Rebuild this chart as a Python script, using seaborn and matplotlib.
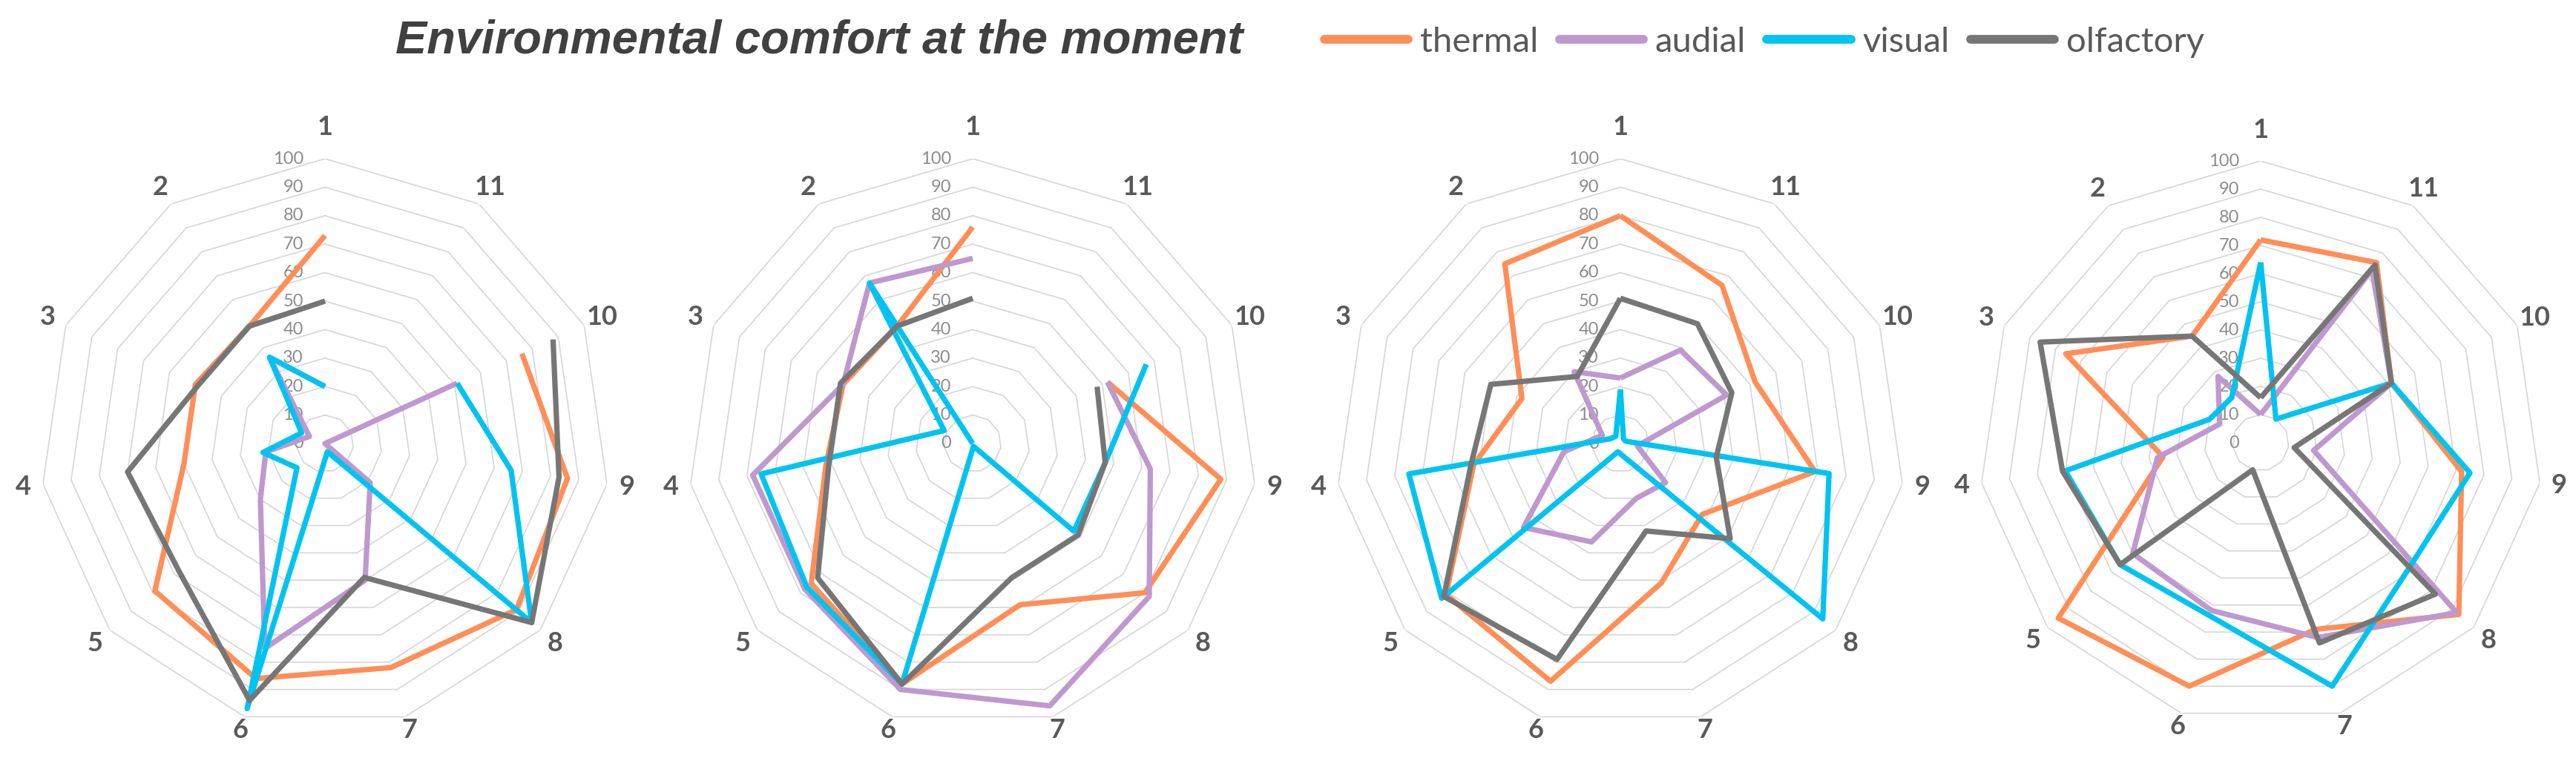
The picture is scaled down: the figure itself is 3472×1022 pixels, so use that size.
import numpy as np
import pandas as pd
import matplotlib
matplotlib.use("Agg")
import matplotlib.pyplot as plt
import seaborn as sns
from matplotlib.lines import Line2D
from matplotlib import transforms

nan = np.nan

# axis labels go counter-clockwise starting at the top
categories = ["1", "2", "3", "4", "5", "6", "7", "8", "9", "10", "11"]
series = ["thermal", "audial", "visual", "olfactory"]
ring_values = [0, 10, 20, 30, 40, 50, 60, 70, 80, 90, 100]

# chart 1
thermal_1 = [73, 49, 50, 50, 79, 86, 82, 89, 86, 76, nan]
audial_1 = [20, 36, 6, 21, 30, 75, 50, 21, 0, 51, nan]
visual_1 = [20, 36, 9, 22, 13, 97, 3, 96, 66, 51, nan]
olfactory_1 = [50, 49, 49, 70, 68, 94, 49, 96, 83, 88, nan]

# chart 2
thermal_2 = [76, 49, 50, 52, 75, 88, 59, 80, 88, 52, nan]
audial_2 = [65, 67, 50, 78, 78, 90, 96, 82, 63, 52, nan]
visual_2 = [0, 67, 11, 75, 77, 88, 1, 47, 47, 67, nan]
olfactory_2 = [51, 49, 51, 51, 72, 88, 49, 49, 47, 48, nan]

# chart 3
thermal_3 = [80, 75, 38, 52, 81, 87, 51, 38, 69, 52, 66]
audial_3 = [23, 30, 7, 20, 45, 36, 20, 21, 6, 41, 39]
visual_3 = [19, 3, 4, 75, 83, 3, 5, 94, 74, 2, 2]
olfactory_3 = [51, 28, 50, 53, 82, 79, 32, 51, 34, 43, 50]

# chart 4
thermal_4 = [72, 45, 76, 35, 95, 90, 69, 93, 72, 51, 76]
audial_4 = [10, 28, 16, 37, 60, 62, 72, 92, 19, 51, 73]
visual_4 = [64, 19, 20, 70, 66, 64, 90, 69, 75, 51, 10]
olfactory_4 = [16, 45, 86, 71, 66, 10, 74, 82, 12, 51, 75]

charts = [
    [thermal_1, audial_1, visual_1, olfactory_1],
    [thermal_2, audial_2, visual_2, olfactory_2],
    [thermal_3, audial_3, visual_3, olfactory_3],
    [thermal_4, audial_4, visual_4, olfactory_4],
]

colors = {"thermal": "#FF8E57", "audial": "#BE98CE", "visual": "#00C3F0", "olfactory": "#767676"}

W, H, DPI = 3473, 1022, 100
centers = [(438, 598), (1311, 598), (2184, 598), (3047, 597)]
radii = [384, 384, 384, 380]

sns.set_theme(style="white")
plt.rcParams["font.family"] = ["Lato", "DejaVu Sans"]

n = len(categories)
theta = np.pi / 2 + np.arange(n) * 2 * np.pi / n
theta_loop = np.append(theta, theta[0] + 2 * np.pi)

# long table, one segment per unbroken run of values (gaps where a value is missing)
rows = []
for ci, chart in enumerate(charts):
    for s, vals in zip(series, chart):
        loop = list(vals) + [vals[0]]
        seg = 0
        for k, (t, v) in enumerate(zip(theta_loop, loop)):
            if np.isnan(v):
                seg += 1
                continue
            rows.append({"chart": ci, "series": s, "seg": seg, "order": k, "theta": t, "value": v})
df = pd.DataFrame(rows)

label_r = {0: 111, 5: 105, 6: 105}

fig = plt.figure(figsize=(W / DPI, H / DPI), dpi=DPI)

for ci, ((cx, cy), R) in enumerate(zip(centers, radii)):
    ax = fig.add_axes([(cx - R) / W, (H - cy - R) / H, 2 * R / W, 2 * R / H], projection="polar")
    ax.set_ylim(0, 100)
    ax.axis("off")

    for v in ring_values[1:]:
        ax.plot(theta_loop, [v] * len(theta_loop), color="#D6D6D6", lw=1.2, zorder=1)

    shift = transforms.offset_copy(ax.transData, fig=fig, x=-29, y=0, units="dots")
    for v in ring_values:
        ax.text(np.pi / 2, v, str(v), transform=shift, ha="right", va="center",
                fontsize=17, color="#8C8C8C")

    for k, lab in enumerate(categories):
        ax.text(theta[k], label_r.get(k, 107), lab, ha="center", va="center",
                fontsize=26, fontweight="bold", color="#595959")

    sub = df[df["chart"] == ci]
    sns.lineplot(data=sub, x="theta", y="value", hue="series", hue_order=series,
                 units="seg", estimator=None, sort=False, palette=colors,
                 linewidth=5.2, legend=False, ax=ax, zorder=3,
                 solid_joinstyle="round", solid_capstyle="butt")
    ax.set_ylim(0, 100)
    ax.axis("off")

fig.text(1104 / W, 1 - 72 / H, "Environmental comfort at the moment", ha="center", va="baseline",
         fontsize=45.5, fontweight="bold", fontstyle="italic", family="Liberation Sans", color="#404040")

handles = [Line2D([], [], color=colors[s], lw=8.5, solid_capstyle="round") for s in series]
fig.legend(handles, series, ncol=4, loc="center left", bbox_to_anchor=(1785 / W, 1 - 57 / H),
           frameon=False, fontsize=34, labelcolor="#595959", handlelength=2.4,
           handletextpad=0.33, columnspacing=0.6, borderpad=0, borderaxespad=0)

fig.savefig("out.png", dpi=DPI)
